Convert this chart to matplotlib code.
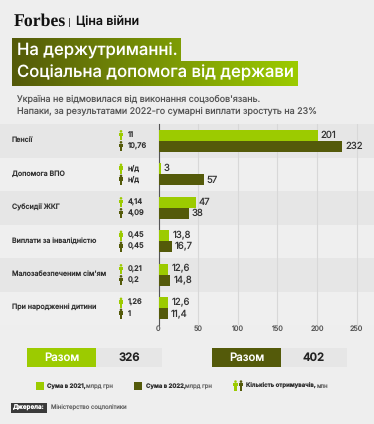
import numpy as np
import matplotlib
matplotlib.use("Agg")
import matplotlib.pyplot as plt
from matplotlib.colors import LinearSegmentedColormap
from matplotlib.patches import Circle, Polygon, Rectangle

W, H = 374, 424
BG = "#eeeeee"
BAND = "#e6e6e6"
LIME = "#9ccb00"
OLIVE = "#545a0a"
TEXT = "#333333"

categories = ["Пенсії", "Допомога ВПО", "Субсидії ЖКГ", "Виплати за інвалідністю",
              "Малозабезпеченим сім'ям", "При народженні дитини"]
sum_2021 = [201, 3, 47, 13.8, 12.6, 12.6]
sum_2022 = [232, 57, 38, 16.7, 14.8, 11.4]
labels_2021 = ["201", "3", "47", "13,8", "12,6", "12,6"]
labels_2022 = ["232", "57", "38", "16,7", "14,8", "11,4"]
people_2021 = ["11", "н/д", "4,14", "0,45", "0,21", "1,26"]
people_2022 = ["10,76", "н/д", "4,09", "0,45", "0,2", "1"]
x_ticks = [0, 50, 100, 150, 200, 250]

plt.rcParams["font.family"] = ["Inter", "DejaVu Sans"]
plt.rcParams["text.hinting"] = "no_hinting"

fig = plt.figure(figsize=(W / 100, H / 100), dpi=100, facecolor=BG)

# pixel-coordinate layer for the decoration
bg = fig.add_axes([0, 0, 1, 1], zorder=0)
bg.set_xlim(0, W)
bg.set_ylim(H, 0)
bg.axis("off")


def person(ax, x, y, color):
    # head, shoulders with arms, legs
    ax.add_patch(Circle((x, y - 3.9), 1.3, color=color, lw=0, zorder=5))
    ax.add_patch(Polygon([(x - 2.2, y - 2.4), (x + 2.2, y - 2.4), (x + 2.2, y + 0.8),
                          (x + 1.2, y + 0.8), (x + 1.2, y + 5), (x - 1.2, y + 5),
                          (x - 1.2, y + 0.8), (x - 2.2, y + 0.8)],
                         closed=True, color=color, lw=0, zorder=5))


# header
bg.text(14, 21.5, "Forbes", family="Liberation Serif", weight="bold", size=12.8,
        color="#111111", va="center", ha="left")
bg.plot([69.5, 69.5], [18, 26], color="#444444", lw=0.7)
bg.text(76.5, 22, "Ціна війни", size=9.0, weight="medium", color="#111111", va="center")

# title boxes share one gradient
cmap = LinearSegmentedColormap.from_list("title", [OLIVE, LIME])
grad = np.linspace(0, 1, 300).reshape(1, -1)
im1 = bg.imshow(grad, extent=(12, 298, 86, 38), cmap=cmap, aspect="auto", zorder=1)
im1.set_clip_path(Rectangle((12, 38), 169, 24, transform=bg.transData))
im2 = bg.imshow(grad, extent=(12, 298, 86, 38), cmap=cmap, aspect="auto", zorder=1)
im2.set_clip_path(Rectangle((12, 61), 286, 25, transform=bg.transData))
bg.set_xlim(0, W)
bg.set_ylim(H, 0)
bg.text(17, 50.5, "На держутриманні.", size=12.0, weight="medium", color="white", va="center", zorder=2)
bg.text(17, 73, "Соціальна допомога від держави", size=12.0, weight="medium", color="white",
        va="center", zorder=2)
bg.text(17, 99, "Україна не відмовилася від виконання соцзобов'язань.", size=6.46, color="#555555", va="center")
bg.text(17, 110.5, "Напаки, за результатами 2022-го сумарні виплати зростуть на 23%", size=6.46,
        color="#555555", va="center")

# rows
row_top = 124
row_h = 33.5
for i, name in enumerate(categories):
    top = row_top + i * row_h
    bg.add_patch(Rectangle((0, top), W, row_h, color=BAND if i % 2 == 0 else "#efefef", lw=0, zorder=0))
    bg.text(12, top + row_h / 2 - 0.5, name, size=5.1, weight="medium", color=TEXT, va="center")
    person(bg, 121, top + row_h / 2 - 5.5, LIME)
    person(bg, 121, top + row_h / 2 + 5.5, OLIVE)
    bg.text(128, top + row_h / 2 - 5.5, people_2021[i], size=5.4, weight="medium", color=TEXT, va="center")
    bg.text(128, top + row_h / 2 + 5.5, people_2022[i], size=5.4, weight="medium", color=TEXT, va="center")

# bars
ax = fig.add_axes([158.5 / W, 1 - 325 / H, 198 / W * 270 / 250, 201 / H], zorder=1)
ax.patch.set_alpha(0)
y = np.arange(len(categories))
ax.barh(y - 0.17, sum_2021, height=0.33, color=LIME, zorder=3)
ax.barh(y + 0.17, sum_2022, height=0.33, color=OLIVE, zorder=3)
for i in y:
    ax.text(sum_2021[i] + 4, i - 0.17, labels_2021[i], size=6.9, color=TEXT, va="center")
    ax.text(sum_2022[i] + 4, i + 0.17, labels_2022[i], size=6.9, color=TEXT, va="center")
ax.set_xlim(0, 270)
ax.set_ylim(5.5, -0.5)
ax.set_yticks([])
ax.set_xticks(x_ticks)
ax.set_xticklabels([str(v) for v in x_ticks], size=5.2, color="#555555")
ax.tick_params(axis="x", length=0, pad=0.5)
ax.grid(axis="x", color="#d8d8d8", lw=0.8, zorder=1)
for side in ["top", "right", "bottom"]:
    ax.spines[side].set_visible(False)
ax.spines["left"].set_color("#555555")
ax.spines["left"].set_linewidth(0.8)

# totals
bg.add_patch(Rectangle((27, 347.5), 135, 19.5, color="#e6e6e6", lw=0))
bg.add_patch(Rectangle((27, 347.5), 69, 19.5, color=LIME, lw=0))
bg.text(61.5, 357.5, "Разом", size=8.2, weight="medium", color="white", ha="center", va="center")
bg.text(129, 357.5, "326", size=8.2, weight="semibold", color="#222222", ha="center", va="center")
bg.add_patch(Rectangle((212, 347.5), 135, 19.5, color="#e6e6e6", lw=0))
bg.add_patch(Rectangle((212, 347.5), 69, 19.5, color=OLIVE, lw=0))
bg.text(246.5, 357.5, "Разом", size=8.2, weight="medium", color="white", ha="center", va="center")
bg.text(314, 357.5, "402", size=8.2, weight="semibold", color="#222222", ha="center", va="center")

# legend
bg.add_patch(Rectangle((36, 382), 8, 7.5, color=LIME, lw=0))
bg.text(47, 386, "Сума в 2021,", size=4.3, weight="bold", color=TEXT, va="center")
bg.text(86, 386, "млрд грн", size=4.3, color="#666666", va="center")
bg.add_patch(Rectangle((134.5, 382), 8, 7.5, color=OLIVE, lw=0))
bg.text(146, 386, "Сума в 2022,", size=4.3, weight="bold", color=TEXT, va="center")
bg.text(185.5, 386, "млрд грн", size=4.3, color="#666666", va="center")
person(bg, 235.5, 385.5, LIME)
person(bg, 241, 385.5, OLIVE)
bg.text(246.5, 386, "Кількість отримувачів,", size=4.3, weight="bold", color=TEXT, va="center")
bg.text(317, 386, "млн", size=4.3, color="#666666", va="center")

# source
bg.add_patch(Rectangle((11, 403), 36, 9.5, color="#3a3a3a", lw=0))
bg.text(29, 407.7, "Джерела:", size=4.5, weight="bold", color="white", ha="center", va="center")
bg.text(51, 407.7, "Міністерство соцполітики", size=4.3, color="#666666", va="center")

fig.savefig("out.png", dpi=100, facecolor=BG)
